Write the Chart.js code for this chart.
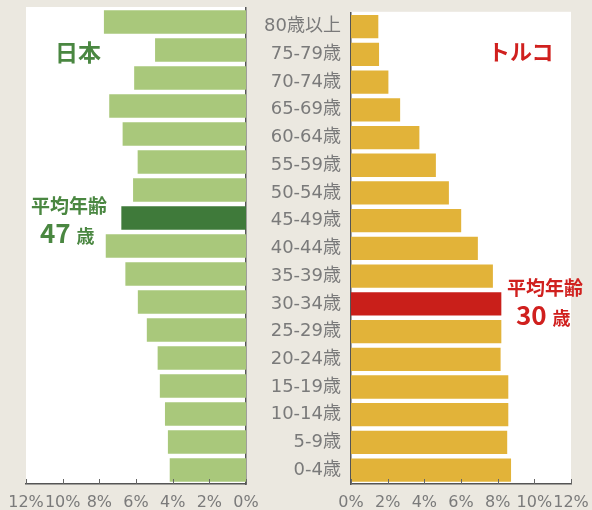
<!DOCTYPE html>
<html>
<head>
<meta charset="utf-8">
<script src="https://cdn.jsdelivr.net/npm/chart.js@4"></script>
<style>
  body { margin:0; background:#ebe8e0; width:592px; height:510px; overflow:hidden; position:relative; font-family:"Noto Sans CJK JP", sans-serif; }
  canvas { position:absolute; top:0; }
  #left { left:0; }
  #right { left:246px; }
  .note { position:absolute; font-weight:bold; white-space:nowrap; line-height:1; }
  .jp { color:#4a8741; }
  .tr { color:#d0201e; }
</style>
</head>
<body>
<canvas id="left" width="262" height="510"></canvas>
<canvas id="right" width="346" height="510"></canvas>

<div class="note jp" style="left:55px;top:40px;font-size:23px;">日本</div>
<div class="note jp" style="left:31px;top:195px;font-size:19px;">平均年齢</div>
<div class="note jp" style="left:40px;top:219px;font-size:26px;">47 <span style="font-size:18px">歳</span></div>
<div class="note tr" style="left:488px;top:39px;font-size:22px;">トルコ</div>
<div class="note tr" style="left:507px;top:277px;font-size:19px;">平均年齢</div>
<div class="note tr" style="left:516px;top:301px;font-size:26px;">30 <span style="font-size:18px">歳</span></div>

<script>
// age groups, top to bottom
const ages = ['80歳以上','75-79歳','70-74歳','65-69歳','60-64歳','55-59歳','50-54歳','45-49歳','40-44歳','35-39歳','30-34歳','25-29歳','20-24歳','15-19歳','10-14歳','5-9歳','0-4歳']
// share of population (%)
const japan = [7.75,4.96,6.1,7.46,6.73,5.91,6.16,6.8,7.65,6.58,5.9,5.41,4.82,4.7,4.42,4.26,4.16]
const turkey = [1.49,1.53,2.04,2.68,3.73,4.63,5.34,6.01,6.92,7.74,8.2,8.2,8.16,8.58,8.58,8.52,8.73]
const pctTicks = [0,2,4,6,8,10,12]
// group holding the average age
const japanAvg = '45-49歳'
const turkeyAvg = '30-34歳'

const tickFont = {family:'"DejaVu Sans", "Noto Sans CJK JP", sans-serif', size:16}
const ageFont = {family:'"DejaVu Sans", "Noto Sans CJK JP", sans-serif', size:18}
const gray = '#7a7a7a'

// white plot panel behind the bars + small inner tick marks on the x axis
const panel = {
  id:'panel',
  beforeDraw(chart){
    const {ctx, chartArea:a} = chart
    ctx.save()
    ctx.fillStyle = '#fff'
    ctx.fillRect(a.left, a.top - 1, a.right - a.left, a.bottom - a.top + 1)
    ctx.restore()
  },
  afterDraw(chart){
    const {ctx, chartArea:a} = chart
    const xs = chart.scales.x
    ctx.save()
    ctx.strokeStyle = '#666'
    ctx.lineWidth = 1
    xs.ticks.forEach((t,i)=>{
      const px = Math.round(xs.getPixelForTick(i)) + 0.5
      ctx.beginPath()
      ctx.moveTo(px, a.bottom)
      ctx.lineTo(px, a.bottom - 5)
      ctx.stroke()
    })
    ctx.restore()
  }
}

function xScale(reverse){
  return {
    min:0, max:12, reverse,
    afterBuildTicks: s => { s.ticks = pctTicks.map(v=>({value:v})) },
    afterFit: s => { s.height = 26 },
    grid:{display:false},
    border:{display:true, color:'#555', width:1.5},
    ticks:{font:tickFont, color:gray, padding:1, maxRotation:0, autoSkip:false, callback:v=>v+'%'}
  }
}

function makeChart(id, values, avg, base, hi, side){
  const colors = ages.map(a => a === avg ? hi : base)
  return new Chart(document.getElementById(id), {
    type:'bar',
    data:{labels:ages, datasets:[{data:values, backgroundColor:colors, borderWidth:0, barPercentage:0.84, categoryPercentage:1}]},
    options:{
      indexAxis:'y',
      responsive:false,
      animation:false,
      layout:{padding: side === 'left' ? {left:26, right:16, top:8, bottom:0} : {left:0, right:21, top:8, bottom:0}},
      plugins:{legend:{display:false}, tooltip:{enabled:false}},
      scales:{
        x: xScale(side === 'left'),
        y:{
          position: side === 'left' ? 'right' : 'left',
          afterFit: s => { s.width = side === 'left' ? 0 : 105 },
          grid:{display:false},
          border:{display:true, color:'#555', width:1.5},
          ticks:{display: side !== 'left', font:ageFont, color:gray, padding:2}
        }
      }
    },
    plugins:[panel]
  })
}

makeChart('left', japan, japanAvg, '#a9c87b', '#3f7a3a', 'left')
makeChart('right', turkey, turkeyAvg, '#e2b339', '#c91f1a', 'right')
</script>
</body>
</html>
